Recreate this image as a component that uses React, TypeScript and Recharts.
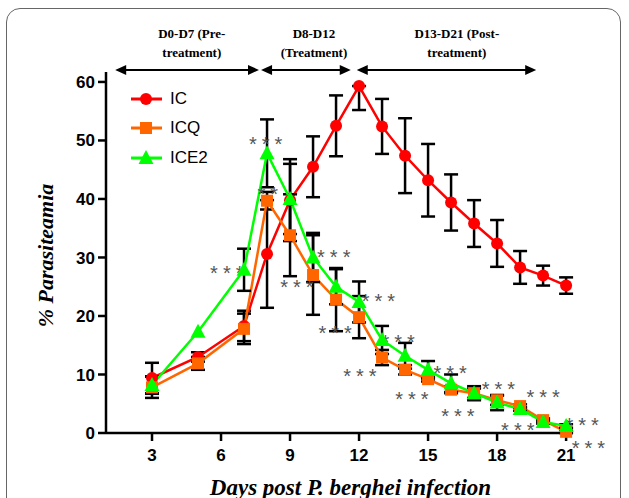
import React from "react";
import {
  ErrorBar,
  Label,
  Legend,
  Line,
  LineChart,
  ReferenceDot,
  ReferenceLine,
  XAxis,
  YAxis,
} from "recharts";

const days = [3, 5, 7, 8, 9, 10, 11, 12, 13, 14, 15, 16, 17, 18, 19, 20, 21];
const ic = [9.4, 13.0, 18.3, 30.6, 39.8, 45.5, 52.5, 59.3, 52.4, 47.4, 43.2, 39.4, 35.8, 32.4, 28.3, 26.9, 25.2];
const icErr = [2.6, 0.8, 2.6, 9.2, 7.0, 5.2, 5.2, [4.1, 0], 4.7, 6.4, 6.2, 4.8, 4.0, 4.0, 2.8, 1.7, 1.4];
const icq = [7.8, 11.9, 17.8, 39.7, 33.8, 27.0, 22.8, 19.8, 12.9, 10.8, 9.2, 7.4, 6.8, 5.6, 4.6, 2.2, 0.2];
const icqErr = [1.8, 1.1, 2.6, 1.5, 7.0, 6.8, 5.4, 3.6, 1.3, 0.8, 0.4, 0.6, 0.8, 0.8, 0.3, 0.3, 0.2];
const ice2 = [8.2, 17.3, 27.9, 47.8, 40.0, 30.0, 25.0, 22.4, 15.9, 13.2, 10.8, 8.5, 6.8, 5.2, 4.1, 1.9, 1.2];
const ice2Err = [1.5, 0, 3.6, 5.8, 6.0, 4.2, 3.0, 3.5, 2.4, 2.2, 1.5, 1.5, 1.2, 1.3, 0.3, 0.3, 0.3];

const xTicks = [3, 6, 9, 12, 15, 18, 21];
const yTicks = [0, 10, 20, 30, 40, 50, 60];

// significance marks (day, % position, text)
const stars = [
  { day: 7.94, value: 50.1, text: "***" },
  { day: 8.03, value: 41.5, text: "**" },
  { day: 6.25, value: 28.0, text: "***" },
  { day: 10.9, value: 30.8, text: "***" },
  { day: 9.3, value: 25.6, text: "***" },
  { day: 10.96, value: 17.8, text: "***" },
  { day: 12.84, value: 23.3, text: "***" },
  { day: 12.04, value: 10.5, text: "***" },
  { day: 13.7, value: 16.2, text: "***" },
  { day: 15.96, value: 10.9, text: "***" },
  { day: 14.3, value: 6.5, text: "***" },
  { day: 18.06, value: 8.2, text: "***" },
  { day: 16.3, value: 3.6, text: "***" },
  { day: 20.0, value: 6.8, text: "***" },
  { day: 18.9, value: 1.25, text: "***" },
  { day: 21.7, value: 2.1, text: "***" },
  { day: 21.97, value: -1.9, text: "***" },
];

// treatment periods drawn as double arrows above the plot
const periodStart = [1.4, 7.74, 11.9];
const periodEnd = [7.65, 11.64, 19.7];
const periodTextAt = [4.73, 10.04, 16.25];
const periodText = [
  ["D0-D7 (Pre-", "treatment)"],
  ["D8-D12", "(Treatment)"],
  ["D13-D21 (Post-", "treatment)"],
];
const arrowLevel = 62.05;

const RED = "#ff0000";
const ORANGE = "#ff6600";
const GREEN = "#00ff00";

const data = days.map((d, i) => ({
  day: d,
  ic: ic[i],
  icErr: icErr[i],
  icq: icq[i],
  icqErr: icqErr[i],
  ice2: ice2[i],
  ice2Err: ice2Err[i],
}));

const serif = "'Liberation Serif', 'Times New Roman', serif";
const sans = "'Liberation Sans', Arial, sans-serif";

const SquareDot = (p: any) => {
  if (p.cx == null || p.cy == null) return <g key={"s" + p.index} />;
  return <rect key={"s" + p.index} x={p.cx - 6} y={p.cy - 6} width={12} height={12} fill={ORANGE} />;
};

const TriangleDot = (p: any) => {
  if (p.cx == null || p.cy == null) return <g key={"t" + p.index} />;
  const { cx, cy } = p;
  return (
    <polygon
      key={"t" + p.index}
      points={`${cx},${cy - 8} ${cx - 7.5},${cy + 6} ${cx + 7.5},${cy + 6}`}
      fill={GREEN}
    />
  );
};

const ArrowShape = (p: any) => {
  const { x1, y1, x2 } = p;
  return (
    <g>
      <line x1={x1 + 6} y1={y1} x2={x2 - 6} y2={y1} stroke="#000" strokeWidth={2} />
      <polygon points={`${x1},${y1} ${x1 + 11},${y1 - 5} ${x1 + 11},${y1 + 5}`} fill="#000" />
      <polygon points={`${x2},${y1} ${x2 - 11},${y1 - 5} ${x2 - 11},${y1 + 5}`} fill="#000" />
    </g>
  );
};

const periodLabel = (lines: string[]) => (p: any) => (
  <g>
    <text x={p.cx} y={p.cy - 32} textAnchor="middle" fontFamily={serif} fontWeight="bold" fontSize={13} fill="#000">
      {lines[0]}
    </text>
    <text x={p.cx} y={p.cy - 13} textAnchor="middle" fontFamily={serif} fontWeight="bold" fontSize={13} fill="#000">
      {lines[1]}
    </text>
  </g>
);

const starShape = (t: string) => (p: any) => (
  <text
    x={p.cx + 2.5}
    y={p.cy + 11}
    textAnchor="middle"
    fontFamily={sans}
    fontSize={20}
    letterSpacing={5}
    fill="#555"
  >
    {t}
  </text>
);

const YTitle = (p: any) => {
  const vb = p.viewBox;
  const x = vb.x + 7;
  const y = vb.y + vb.height / 2 + 3;
  return (
    <text
      x={x}
      y={y}
      transform={`rotate(-90 ${x} ${y})`}
      textAnchor="middle"
      fontFamily={serif}
      fontStyle="italic"
      fontWeight="bold"
      fontSize={22}
      fill="#000"
    >
      % Parasiteamia
    </text>
  );
};

const XTitle = (p: any) => {
  const vb = p.viewBox;
  return (
    <text
      x={vb.x + vb.width / 2 + 11}
      y={vb.y + 62}
      textAnchor="middle"
      fontFamily={serif}
      fontStyle="italic"
      fontWeight="bold"
      fontSize={23}
      fill="#000"
    >
      Days post P. berghei infection
    </text>
  );
};

const legendItems = [
  { name: "IC", color: RED, mark: "circle" },
  { name: "ICQ", color: ORANGE, mark: "square" },
  { name: "ICE2", color: GREEN, mark: "triangle" },
];

const LegendBox = () => (
  <div>
    {legendItems.map((it) => (
      <div key={it.name} style={{ display: "flex", alignItems: "center", height: 29.5 }}>
        <svg width={32} height={16}>
          <line x1={0} y1={8} x2={31} y2={8} stroke={it.color} strokeWidth={3} />
          {it.mark === "circle" && <circle cx={15} cy={8} r={6} fill={it.color} />}
          {it.mark === "square" && <rect x={9} y={2} width={12} height={12} fill={it.color} />}
          {it.mark === "triangle" && <polygon points="15,0 7.5,14 22.5,14" fill={it.color} />}
        </svg>
        <span style={{ marginLeft: 7, fontFamily: sans, fontSize: 17, color: "#000" }}>{it.name}</span>
      </div>
    ))}
  </div>
);

const axisStyle = { stroke: "#000", strokeWidth: 2.5 };
const tickStyle = { fill: "#000", fontFamily: sans, fontWeight: "bold" as const, fontSize: 17 };

export default function App() {
  return (
    <div style={{ position: "fixed", left: 0, top: 0, width: 629, height: 498, overflow: "hidden", background: "#fff" }}>
      <div
        style={{
          position: "absolute",
          left: 6,
          top: 8,
          width: 613,
          height: 540,
          border: "1.5px solid #666",
          borderRadius: 14,
        }}
      />
      <div style={{ position: "absolute", left: 0, top: 0 }}>
        <LineChart width={629} height={498} data={data} margin={{ top: 72, right: 56, bottom: 0, left: 46 }}>
          <XAxis
            dataKey="day"
            type="number"
            domain={[1, 21.3]}
            ticks={xTicks}
            height={65}
            axisLine={axisStyle}
            tickLine={axisStyle}
            tickSize={8}
            tickMargin={8}
            tick={tickStyle}
          >
            <Label content={XTitle} />
          </XAxis>
          <YAxis
            type="number"
            domain={[0, 61.7]}
            ticks={yTicks}
            width={60}
            axisLine={axisStyle}
            tickLine={axisStyle}
            tickSize={8}
            tickMargin={3}
            tick={tickStyle}
          >
            <Label content={YTitle} />
          </YAxis>
          <Legend
            layout="vertical"
            align="center"
            verticalAlign="middle"
            content={LegendBox}
            wrapperStyle={{ left: 131, top: 84, width: 120 }}
          />
          {periodStart.map((s, i) => (
            <ReferenceLine
              key={"p" + i}
              segment={[
                { x: s, y: arrowLevel },
                { x: periodEnd[i], y: arrowLevel },
              ]}
              ifOverflow="visible"
              shape={ArrowShape}
            />
          ))}
          {periodText.map((lines, i) => (
            <ReferenceDot
              key={"pt" + i}
              x={periodTextAt[i]}
              y={arrowLevel}
              r={0}
              ifOverflow="visible"
              shape={periodLabel(lines)}
            />
          ))}
          <Line
            dataKey="ic"
            name="IC"
            type="linear"
            stroke={RED}
            strokeWidth={2.5}
            dot={{ r: 6, fill: RED, stroke: RED, strokeWidth: 0 }}
            isAnimationActive={false}
          >
            <ErrorBar dataKey="icErr" stroke="#000" strokeWidth={2.5} width={7} isAnimationActive={false} />
          </Line>
          <Line
            dataKey="icq"
            name="ICQ"
            type="linear"
            stroke={ORANGE}
            strokeWidth={2.5}
            dot={SquareDot}
            isAnimationActive={false}
          >
            <ErrorBar dataKey="icqErr" stroke="#000" strokeWidth={2.5} width={7} isAnimationActive={false} />
          </Line>
          <Line
            dataKey="ice2"
            name="ICE2"
            type="linear"
            stroke={GREEN}
            strokeWidth={2.5}
            dot={TriangleDot}
            isAnimationActive={false}
          >
            <ErrorBar dataKey="ice2Err" stroke="#000" strokeWidth={2.5} width={7} isAnimationActive={false} />
          </Line>
          {stars.map((s, i) => (
            <ReferenceDot
              key={"st" + i}
              x={s.day}
              y={s.value}
              r={0}
              ifOverflow="visible"
              shape={starShape(s.text)}
            />
          ))}
        </LineChart>
      </div>
    </div>
  );
}
